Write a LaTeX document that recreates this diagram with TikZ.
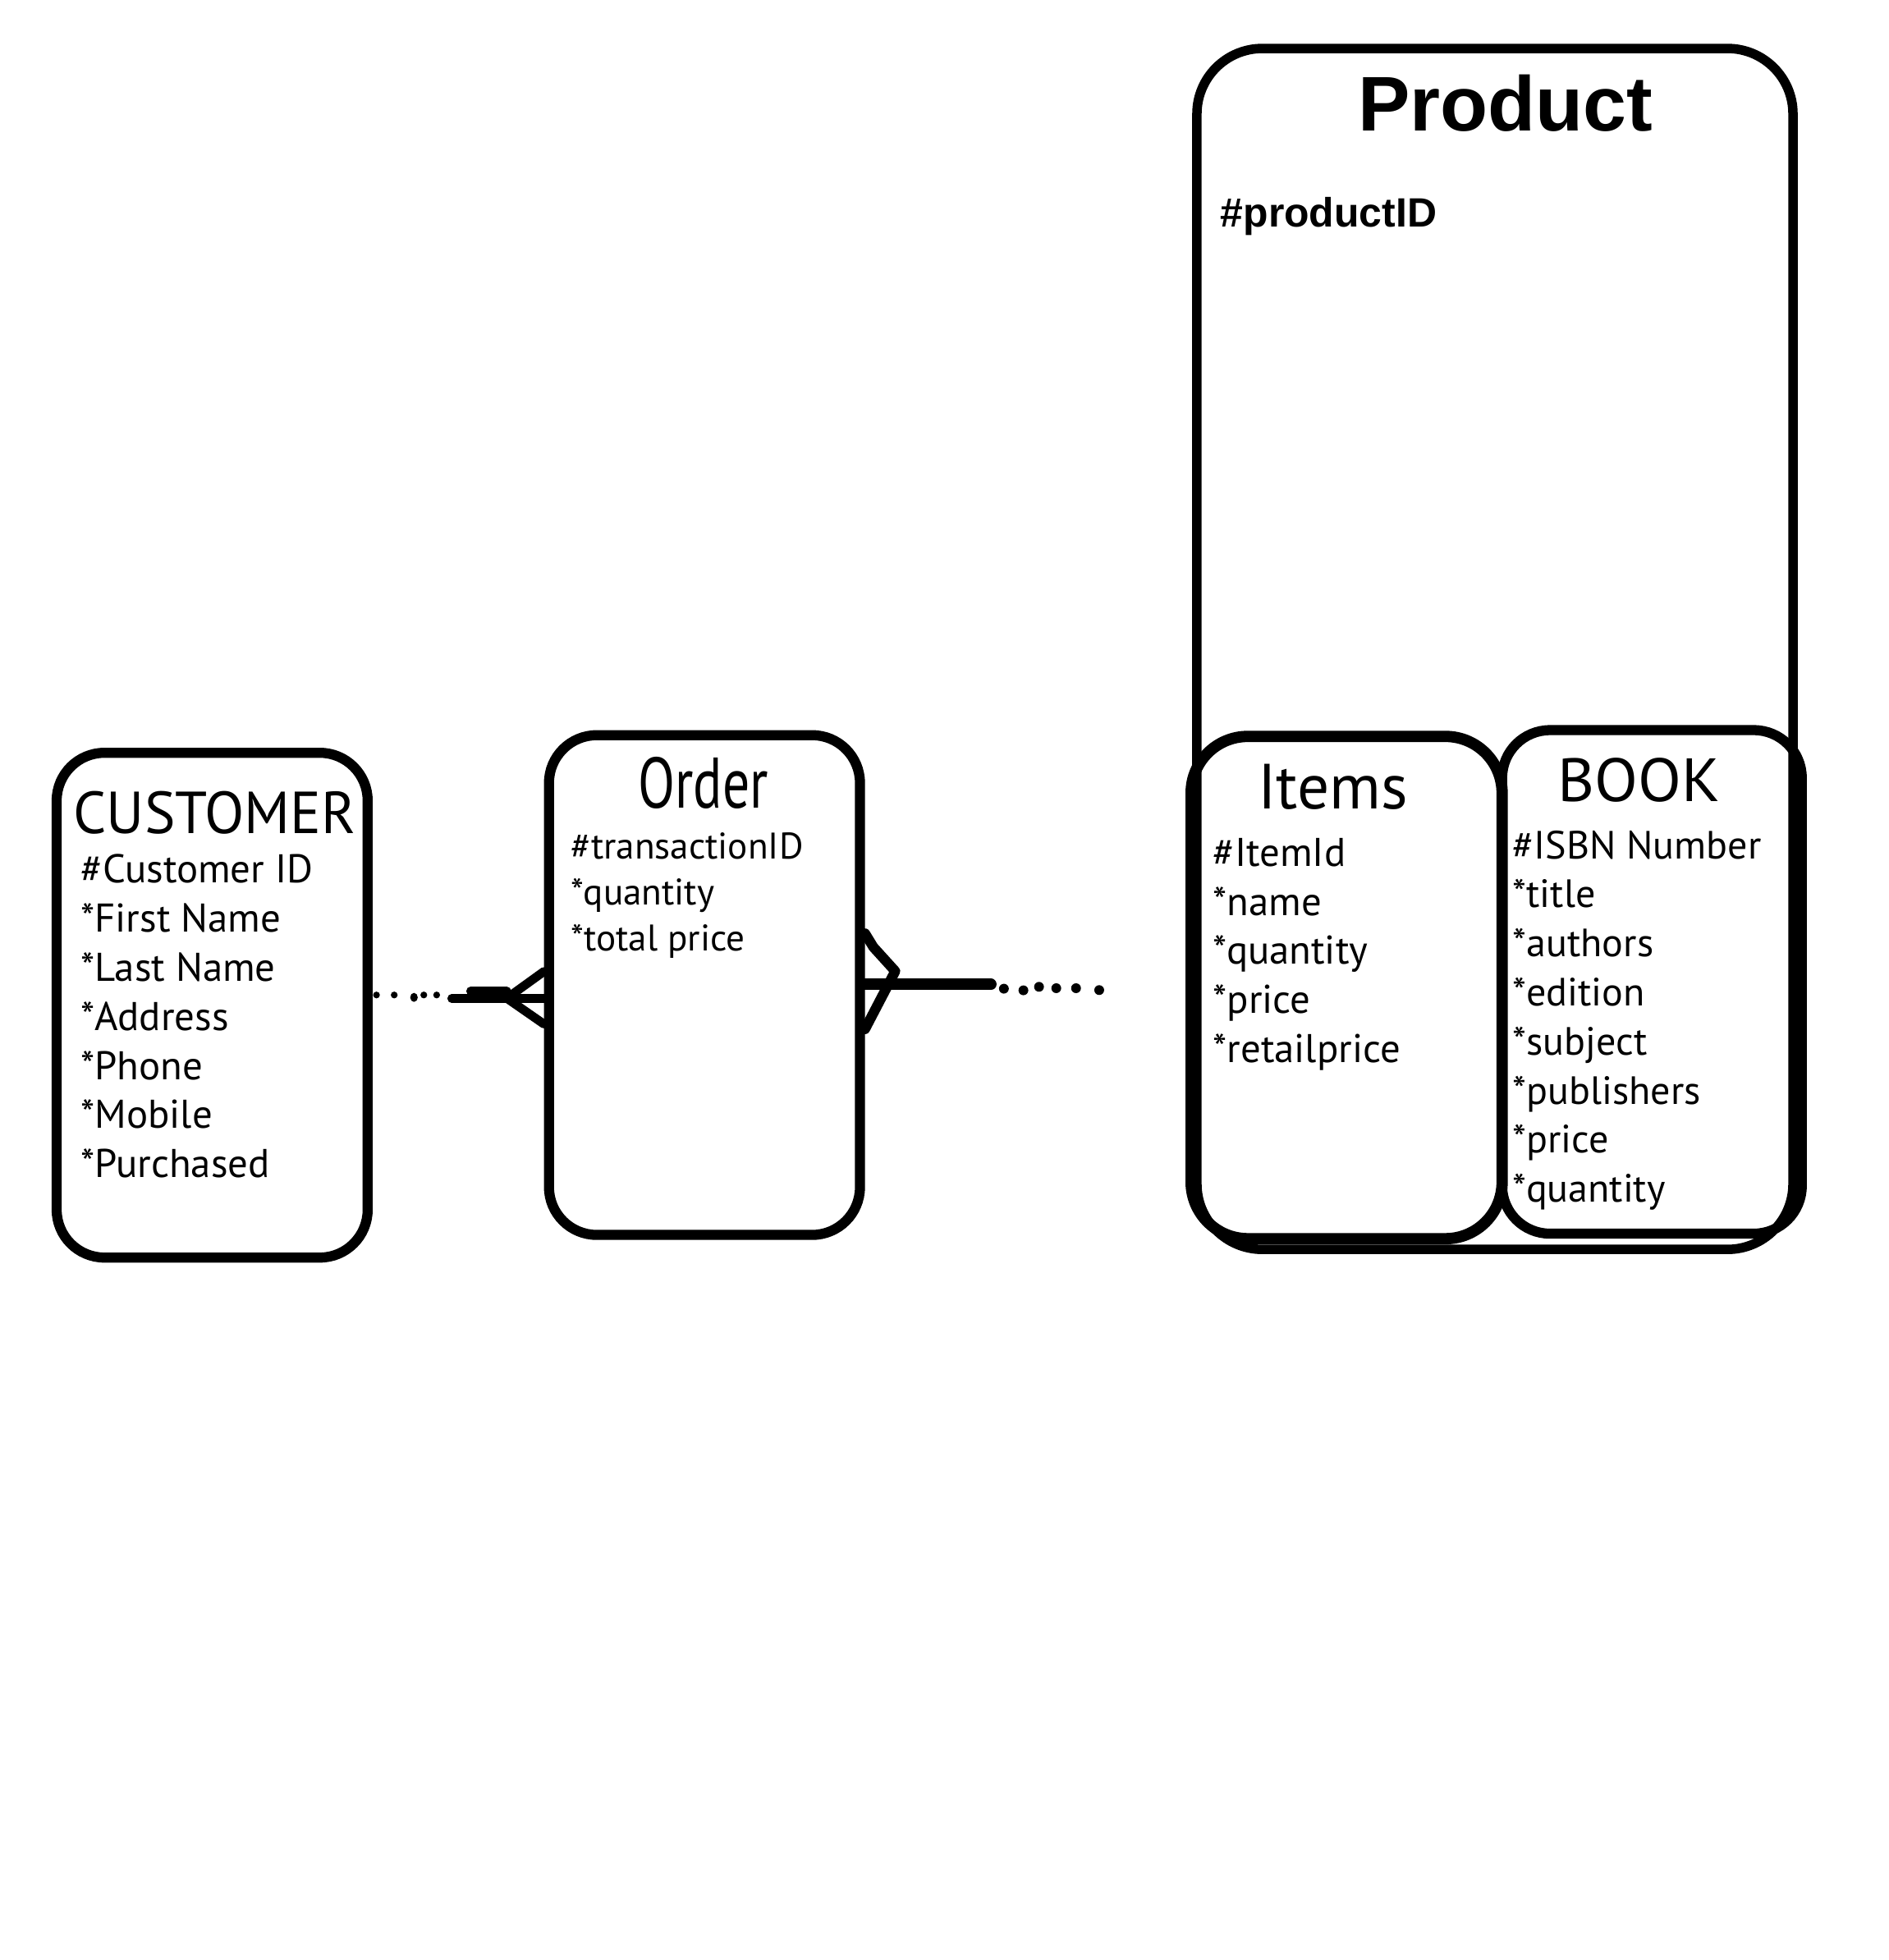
\documentclass[tikz,border=0pt]{standalone}
\usepackage{fontspec}
\usepackage{graphicx}
\setmainfont{PT Sans}
\newfontfamily\prodfont{Liberation Sans}
\newlength\mywd
\newcommand\setfitsize[3]{%
  \settowidth\mywd{\fontsize{10pt}{12pt}\selectfont #3}%
  \pgfmathsetmacro#1{10*#2/\mywd}%
  \global\let#1#1}
\begin{document}
\setfitsize{\custsize}{184.5}{\#Customer ID}%
\setfitsize{\ordsize}{184.5}{\#transactionID}%
\setfitsize{\itemsize}{148.8}{*retailprice}%
\setfitsize{\booksize}{197.4}{\#ISBN Number}%
\begin{tikzpicture}[x=1pt,y=-1pt,
  ebox/.style={draw, line width=8pt, rounded corners=38pt, inner sep=0pt},
  ttl/.style={anchor=base, inner sep=0pt},
  attr/.style={anchor=base west, inner sep=0pt},
  conn/.style={line width=7pt, line cap=round}]
\fill[white] (0,0) rectangle (1500,1557);
\useasboundingbox (0,0) rectangle (1500,1557);
% ---------- boxes
\node[ebox, minimum width=247pt, minimum height=401pt] (cust) at (168.5,798.5) {};
\node[ebox, minimum width=247pt, minimum height=397pt] (order) at (559.5,782.5) {};
\node[ebox, line width=7.5pt, rounded corners=52pt, minimum width=473.4pt, minimum height=954pt] (prod) at (1187.3,515.5) {};
\node[ebox, line width=9pt, rounded corners=45pt, minimum width=247pt, minimum height=399pt] (items) at (1069.5,784.5) {};
\node[ebox, rounded corners=38pt, minimum width=238pt, minimum height=400pt] (book) at (1312,780) {};
% ---------- titles
\node[ttl] (custT) at (170.5,662) {\resizebox{224pt}{33.5pt}{CUSTOMER}};
\node[ttl] (orderT) at (558.5,641.8) {\resizebox{103.2pt}{40.5pt}{Order}};
\node[ttl] (prodT) at (1195.5,104.2) {\resizebox{234pt}{44.6pt}{\prodfont\bfseries Product}};
\node[attr] (prodA) at (969.2,180.5) {\resizebox{171.6pt}{!}{\prodfont\bfseries \#productID}};
\node[ttl] (itemsT) at (1058.5,642.8) {\resizebox{119pt}{35.5pt}{Items}};
\node[ttl] (bookT) at (1301.5,636.5) {\resizebox{129pt}{34.5pt}{BOOK}};
% ---------- attributes
\foreach \t [count=\i from 0] in {\#Customer ID,*First Name,*Last Name,*Address,*Phone,*Mobile,*Purchased}
  \node[attr, font=\fontsize{\custsize pt}{\custsize pt}\selectfont] (ca\i) at (64,701.4+\i*39.0) {\t};
\foreach \t [count=\i from 0] in {\#transactionID,*quantity,*total price}
  \node[attr, font=\fontsize{\ordsize pt}{\ordsize pt}\selectfont] (oa\i) at (453.3,682+\i*36.8) {\t};
\foreach \t [count=\i from 0] in {\#ItemId,*name,*quantity,*price,*retailprice}
  \node[attr, font=\fontsize{\itemsize pt}{\itemsize pt}\selectfont] (ia\i) at (963.2,688+\i*39.0) {\t};
\foreach \t [count=\i from 0] in {\#ISBN Number,*title,*authors,*edition,*subject,*publishers,*price,*quantity}
  \node[attr, font=\fontsize{\booksize pt}{\booksize pt}\selectfont] (ba\i) at (1201.3,682+\i*39.0) {\t};
% ---------- connector CUSTOMER -- Order
\coordinate (l1) at (358.8,793.2);
\coordinate (l2) at (373.8,787.4);
\coordinate (l3) at (402.5,787.4);
\coordinate (lj) at (402.5,793);
\draw[conn] (l1) -- (order.west |- l1);
\draw[conn] (l2) -- (l3);
\draw[conn] (lj) -- (order.west |- 0,771.7);
\draw[conn] (lj) -- (order.west |- 0,813.5);
\foreach \x/\y/\r in {299/790.4/2.7, 313.1/790.4/2.7, 336.6/790.4/2.7, 346.8/790.4/2.7}
  \fill (\x,\y) circle (\r pt);
\fill (328.8,792.3) ellipse (3pt and 3.6pt);
% ---------- connector Order -- Items
\coordinate (r1) at (787,782);
\coordinate (rv) at (711,771.5);
\coordinate (rb) at (693.6,752.3);
\draw[conn, line width=9pt] (order.east |- r1) -- (r1);
\draw[conn, line width=8pt, line join=round] (order.east |- 0,741.5) -- (rb) -- (rv) -- (order.east |- 0,817.5);
\foreach \x/\y in {797.3/785.4, 812.8/786.7, 825.2/783.9, 838.9/785, 854.6/785, 873/786.5}
  \fill (\x,\y) circle (3.9pt);
\end{tikzpicture}
\end{document}
